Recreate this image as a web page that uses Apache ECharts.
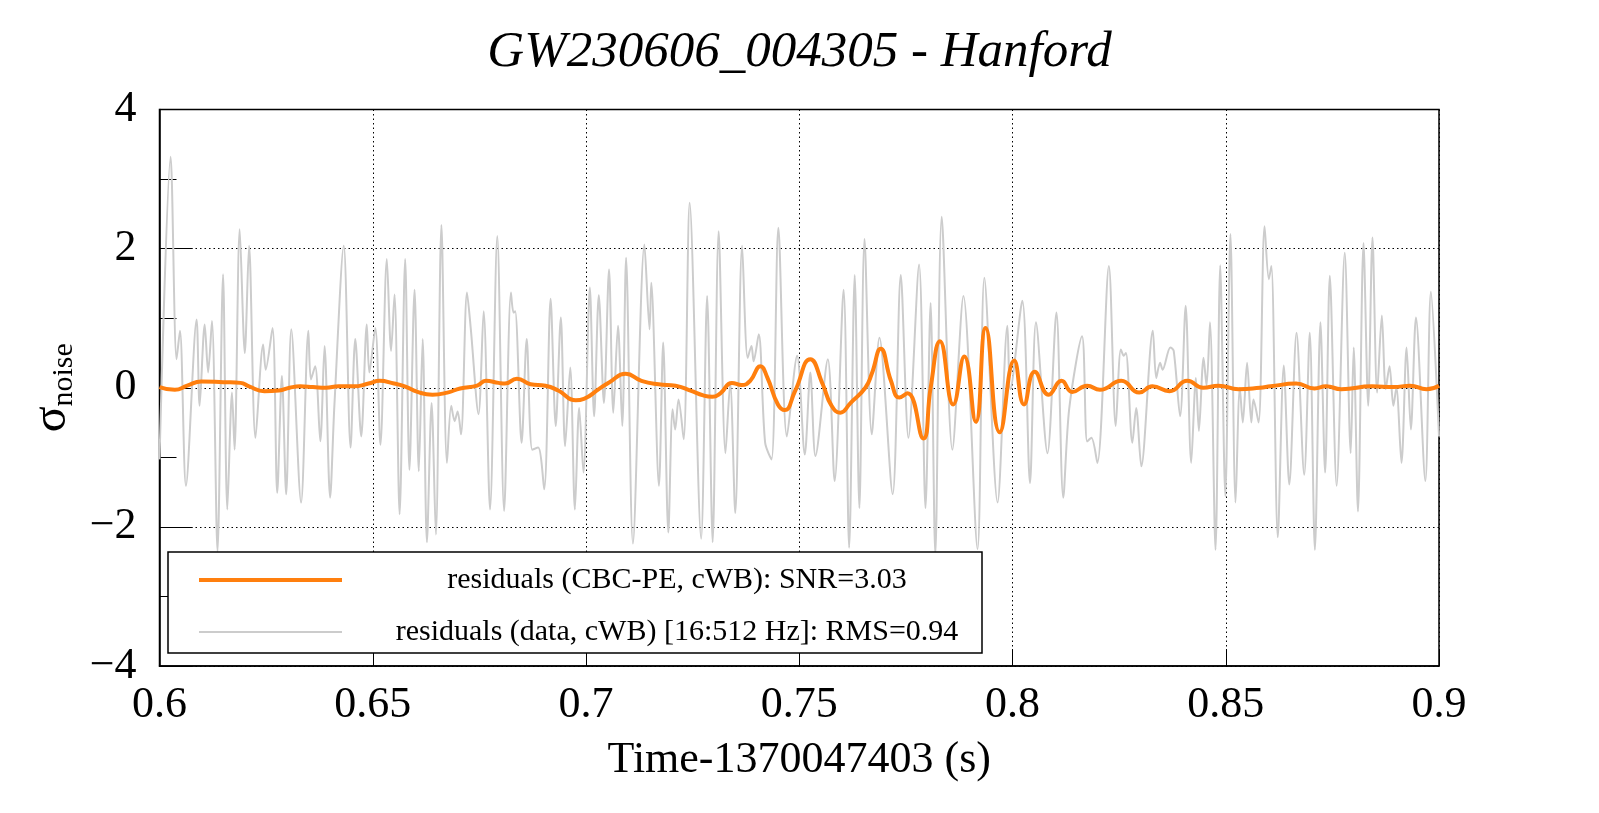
<!DOCTYPE html>
<html>
<head>
<meta charset="utf-8">
<script src="https://cdn.jsdelivr.net/npm/echarts@6/dist/echarts.min.js"></script>
<style>
html,body{margin:0;padding:0;background:#fff;}
#chart{width:1599px;height:813px;}
</style>
</head>
<body>
<div id="chart"></div>
<script>
// ---- data ----
var titleText = 'GW230606_004305 - Hanford';
var xName = 'Time-1370047403 (s)';
var seriesNames = ['residuals (CBC-PE, cWB): SNR=3.03', 'residuals (data, cWB) [16:512 Hz]: RMS=0.94'];
var yTickLabels = {'4':'4','2':'2','0':'0','-2':'\u22122','-4':'\u22124'};

// CBC-PE residual (orange) [time, sigma]
var cbcResidual = [
[0.6000,0.01],[0.6036,-0.03],[0.6065,0.03],[0.6098,0.09],[0.6150,0.08],[0.6190,0.07],[0.6210,0.02],
[0.6246,-0.05],[0.6280,-0.04],[0.6305,0.00],[0.6330,0.02],[0.6360,0.01],[0.6390,0.00],[0.6420,0.02],
[0.6455,0.02],[0.6490,0.06],[0.6516,0.10],[0.6550,0.06],[0.6575,0.02],[0.6605,-0.06],[0.6640,-0.10],
[0.6675,-0.07],[0.6705,-0.01],[0.6745,0.03],[0.6765,0.10],[0.6795,0.07],[0.6810,0.06],[0.6838,0.13],
[0.6870,0.05],[0.6905,0.03],[0.6935,-0.04],[0.6976,-0.18],[0.6995,-0.16],[0.7030,-0.02],[0.7055,0.08],
[0.7093,0.20],[0.7130,0.10],[0.7170,0.05],[0.7210,0.03],[0.7245,-0.04],[0.7275,-0.11],[0.7296,-0.13],
[0.7315,-0.08],[0.7342,0.07],[0.7365,0.04],[0.7385,0.10],[0.7409,0.31],[0.7425,0.15],[0.7450,-0.24],
[0.7466,-0.32],[0.7490,-0.05],[0.7526,0.41],[0.7555,0.05],[0.7575,-0.25],[0.7596,-0.36],[0.7620,-0.22],
[0.7655,0.00],[0.7670,0.20],[0.7691,0.56],[0.7715,0.10],[0.7735,-0.14],[0.7754,-0.08],[0.7791,-0.73],
[0.7808,0.00],[0.7830,0.67],[0.7861,-0.24],[0.7887,0.45],[0.7914,-0.49],[0.7937,0.86],[0.7970,-0.64],
[0.8004,0.39],[0.8027,-0.24],[0.8052,0.23],[0.8085,-0.10],[0.8115,0.10],[0.8140,-0.06],[0.8175,0.03],
[0.8205,-0.03],[0.8255,0.10],[0.8297,-0.07],[0.8328,0.02],[0.8368,-0.05],[0.8410,0.10],[0.8447,0.00],
[0.8483,0.03],[0.8530,-0.02],[0.8580,0.00],[0.8605,0.02],[0.8665,0.06],[0.8708,-0.01],[0.8735,0.02],
[0.8771,-0.02],[0.8843,0.02],[0.8894,0.01],[0.8932,0.03],[0.8971,-0.02],[0.9000,0.03]
];

// data residual (grey) [time, sigma]
var dataResidual = [
[0.6000,-1.03],[0.6026,3.32],[0.6040,0.41],[0.6048,0.82],[0.6062,-1.41],[0.6087,0.98],[0.6094,-0.26],
[0.6106,0.91],[0.6114,0.22],[0.6123,0.96],[0.6136,-2.35],[0.6149,1.63],[0.6159,-1.75],[0.6170,-0.07],
[0.6176,-0.89],[0.6188,2.28],[0.6200,0.50],[0.6210,2.04],[0.6225,-0.72],[0.6243,0.62],[0.6249,0.26],
[0.6265,0.86],[0.6276,-1.51],[0.6287,0.17],[0.6297,-1.53],[0.6309,0.84],[0.6332,-1.65],[0.6349,0.82],
[0.6355,0.12],[0.6365,0.31],[0.6377,-0.77],[0.6387,0.60],[0.6400,-1.58],[0.6410,-0.26],[0.6432,2.04],
[0.6448,-0.86],[0.6459,0.70],[0.6473,-0.70],[0.6486,0.91],[0.6492,0.22],[0.6506,0.86],[0.6518,-0.82],
[0.6533,1.85],[0.6543,0.53],[0.6551,1.34],[0.6563,-1.82],[0.6576,1.85],[0.6586,-1.18],[0.6598,1.41],
[0.6608,-1.20],[0.6617,0.70],[0.6627,-2.22],[0.6638,-0.22],[0.6648,-2.11],[0.6661,2.34],[0.6674,-1.08],
[0.6684,-0.26],[0.6692,-0.48],[0.6699,-0.34],[0.6707,-0.67],[0.6721,1.37],[0.6730,0.84],[0.6748,-0.38],
[0.6760,1.10],[0.6775,-1.75],[0.6792,2.18],[0.6808,-1.77],[0.6824,1.37],[0.6830,1.08],[0.6834,1.10],
[0.6849,-0.79],[0.6861,0.70],[0.6874,-0.89],[0.6888,-0.86],[0.6902,-1.46],[0.6917,1.28],[0.6929,-0.55],
[0.6941,1.01],[0.6951,-0.84],[0.6963,0.29],[0.6974,-1.75],[0.6984,-0.29],[0.6994,-1.22],[0.7009,1.44],
[0.7019,-0.41],[0.7030,1.33],[0.7042,-0.22],[0.7054,1.70],[0.7064,-0.36],[0.7075,0.89],[0.7085,-0.55],
[0.7094,1.87],[0.7110,-2.24],[0.7137,2.06],[0.7149,0.84],[0.7153,1.51],[0.7171,-1.41],[0.7181,0.65],
[0.7193,-2.08],[0.7203,-0.31],[0.7209,-0.60],[0.7217,-0.17],[0.7229,-0.74],[0.7243,2.66],[0.7270,-2.17],
[0.7284,1.32],[0.7297,-2.22],[0.7311,2.25],[0.7327,-0.94],[0.7338,0.07],[0.7350,-1.80],[0.7366,2.04],
[0.7379,0.43],[0.7388,0.60],[0.7393,0.38],[0.7405,0.77],[0.7420,-0.79],[0.7435,-1.03],[0.7451,2.30],
[0.7471,-0.70],[0.7495,0.46],[0.7513,-0.96],[0.7526,0.22],[0.7538,-0.98],[0.7567,0.41],[0.7583,-1.34],
[0.7604,1.41],[0.7617,-2.30],[0.7630,1.62],[0.7641,-1.73],[0.7653,2.14],[0.7670,-0.67],[0.7688,0.72],
[0.7719,-1.53],[0.7738,1.62],[0.7756,-0.72],[0.7781,1.77],[0.7796,-1.73],[0.7808,1.22],[0.7819,-2.40],
[0.7834,2.46],[0.7859,-0.89],[0.7885,1.32],[0.7918,-2.32],[0.7934,1.58],[0.7965,-1.65],[0.7988,0.89],
[0.7995,-0.02],[0.8023,1.25],[0.8041,-1.37],[0.8055,0.94],[0.8082,-0.94],[0.8103,1.08],[0.8119,-1.58],
[0.8133,-0.30],[0.8163,0.74],[0.8175,-0.77],[0.8185,-0.72],[0.8199,-1.08],[0.8226,1.75],[0.8242,-0.55],
[0.8254,0.55],[0.8261,0.46],[0.8266,0.50],[0.8281,-0.79],[0.8290,-0.29],[0.8302,-1.13],[0.8329,0.82],
[0.8337,0.14],[0.8346,0.36],[0.8352,0.26],[0.8370,0.58],[0.8378,0.53],[0.8393,-0.41],[0.8406,1.18],
[0.8419,-1.08],[0.8430,0.14],[0.8437,-0.62],[0.8448,0.43],[0.8455,0.03],[0.8463,0.94],[0.8476,-2.33],
[0.8487,1.76],[0.8499,-1.56],[0.8511,2.21],[0.8523,-1.65],[0.8533,0.00],[0.8540,-0.50],[0.8550,0.36],
[0.8560,-0.50],[0.8565,-0.17],[0.8577,-0.50],[0.8591,2.32],[0.8601,1.56],[0.8607,1.75],[0.8622,-2.15],
[0.8636,0.32],[0.8649,-1.39],[0.8666,0.79],[0.8684,-1.25],[0.8697,0.79],[0.8709,-2.33],[0.8722,0.94],
[0.8733,-1.22],[0.8744,1.61],[0.8760,-1.41],[0.8779,1.94],[0.8793,-0.94],[0.8800,0.58],[0.8810,-1.78],
[0.8823,2.08],[0.8834,-0.26],[0.8844,2.16],[0.8855,-0.07],[0.8866,1.04],[0.8875,-0.02],[0.8884,0.31],
[0.8893,-0.26],[0.8900,0.00],[0.8912,-1.08],[0.8924,0.58],[0.8934,-0.60],[0.8946,1.01],[0.8968,-1.34],
[0.8981,1.38],[0.9000,-0.70]
];

var serif = "'Liberation Serif', 'DejaVu Serif', serif";
var chart = echarts.init(document.getElementById('chart'), null, {renderer: 'canvas'});
chart.setOption({
  animation: false,
  backgroundColor: '#ffffff',
  title: {
    text: titleText,
    left: 'center',
    top: 22,
    textStyle: {fontFamily: serif, fontStyle: 'italic', fontWeight: 'normal', fontSize: 51, color: '#000'}
  },
  grid: {
    left: 159.5, right: 160, top: 109.5, bottom: 147,
    show: true, borderColor: '#000', borderWidth: 1.5, backgroundColor: 'transparent',
    containLabel: false
  },
  legend: {
    orient: 'vertical',
    left: 168, top: 552,
    padding: [13, 15, 6, 31],
    itemGap: 22,
    itemWidth: 143, itemHeight: 14,
    backgroundColor: '#fff',
    borderColor: '#000', borderWidth: 1.5,
    data: [
      {name: seriesNames[0], icon: 'path://M0,0 H143 V4 H0 Z', itemStyle: {color: '#ff7f0e'}},
      {name: seriesNames[1], icon: 'path://M0,0 H143 V2 H0 Z', itemStyle: {color: '#cccccc'}}
    ],
    formatter: function (name) { return '{t|' + name + '}'; },
    textStyle: {
      rich: {
        t: {fontFamily: serif, fontSize: 30, color: '#000', width: 580, align: 'center', lineHeight: 36, padding: [0, 0, 0, 40]}
      }
    }
  },
  xAxis: {
    type: 'value',
    min: 0.6, max: 0.9, interval: 0.05,
    name: xName, nameLocation: 'middle', nameGap: 72,
    nameTextStyle: {fontFamily: serif, fontSize: 44, color: '#000'},
    axisLine: {show: true, onZero: false, lineStyle: {color: '#000', width: 1.5}},
    axisTick: {show: true, inside: true, length: 17, lineStyle: {color: '#000', width: 1}},
    axisLabel: {
      margin: 17, fontFamily: serif, fontSize: 44, color: '#000',
      formatter: function (v) { return String(+v.toFixed(2)); }
    },
    splitLine: {show: true, lineStyle: {color: '#000', type: [1.5, 3], width: 1}}
  },
  yAxis: {
    type: 'value',
    min: -4, max: 4, interval: 2,
    name: '{s|\u03c3}{n|noise}', nameLocation: 'middle', nameGap: 78, nameRotate: 90,
    nameTextStyle: {
      color: '#000',
      rich: {
        s: {fontFamily: serif, fontSize: 48, lineHeight: 50, verticalAlign: 'top', color: '#000'},
        n: {fontFamily: serif, fontSize: 30, lineHeight: 30, verticalAlign: 'bottom', color: '#000'}
      },
      lineHeight: 62
    },
    axisLine: {show: true, onZero: false, lineStyle: {color: '#000', width: 1.5}},
    axisTick: {show: true, inside: true, length: 33, lineStyle: {color: '#000', width: 1}},
    minorTick: {show: true, splitNumber: 2, length: 17, lineStyle: {color: '#000', width: 1}},
    axisLabel: {
      margin: 23, fontFamily: serif, fontSize: 44, color: '#000',
      formatter: function (v) { return yTickLabels[String(Math.round(v))] || String(v); }
    },
    splitLine: {show: true, lineStyle: {color: '#000', type: [1.5, 3], width: 1}}
  },
  series: [
    {
      name: seriesNames[1], type: 'line', data: dataResidual,
      symbol: 'none', smooth: 0.3, z: 2,
      lineStyle: {color: '#cccccc', width: 2},
      itemStyle: {color: '#cccccc'}
    },
    {
      name: seriesNames[0], type: 'line', data: cbcResidual,
      symbol: 'none', smooth: 0.5, z: 3,
      lineStyle: {color: '#ff7f0e', width: 4},
      itemStyle: {color: '#ff7f0e'}
    }
  ]
});
</script>
</body>
</html>
